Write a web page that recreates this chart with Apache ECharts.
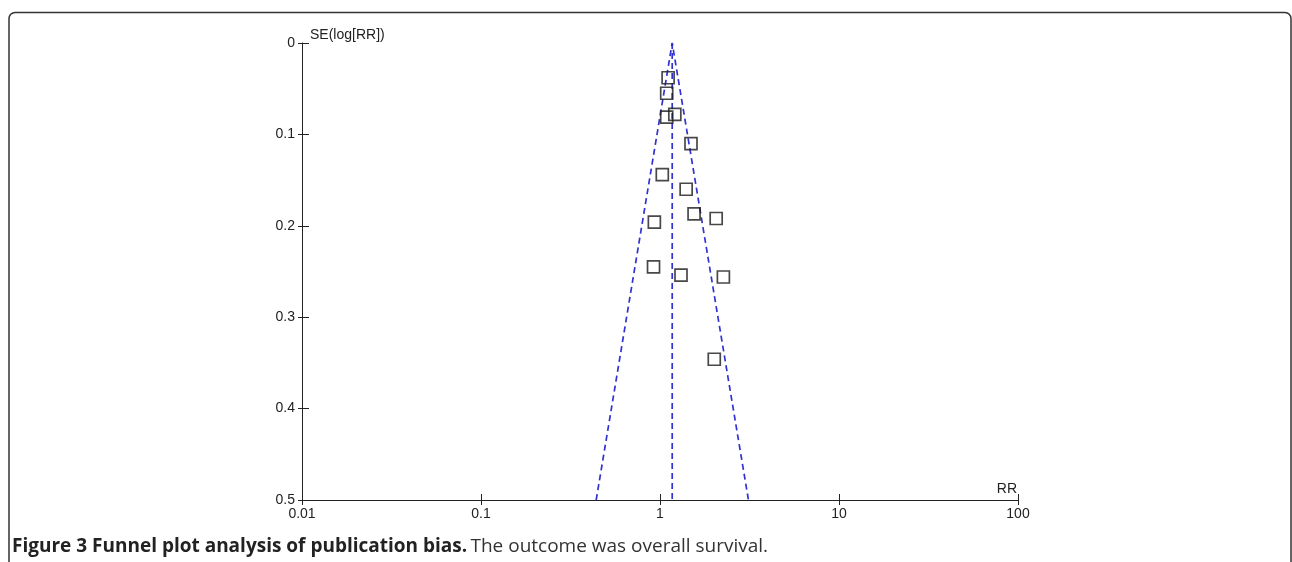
<!DOCTYPE html>
<html>
<head>
<meta charset="utf-8">
<script src="https://cdn.jsdelivr.net/npm/echarts@6/dist/echarts.min.js"></script>
<style>
  html, body { margin: 0; padding: 0; background: #fff; }
  #chart { width: 1292px; height: 562px; }
</style>
</head>
<body>
<div id="chart"></div>
<script>
// study points: RR and SE(log[RR])
var studyRR = [1.11, 1.09, 1.09, 1.21, 1.49, 1.03, 1.40, 1.55, 2.06, 0.93, 0.92, 1.31, 2.26, 2.01];
var studySE = [0.038, 0.055, 0.081, 0.078, 0.110, 0.144, 0.160, 0.187, 0.192, 0.196, 0.245, 0.254, 0.256, 0.346];

// pooled estimate and funnel limits at the bottom of the plot
var pooledRR = 1.17;
var funnelRR = [0.44, 1.17, 3.12];
var funnelSE = [0.5, 0, 0.5];
var centerSE = [0, 0.5];

var xTicks = [0.01, 0.1, 1, 10, 100];

var points = studyRR.map(function (rr, i) { return [rr, studySE[i]]; });
var funnel = funnelRR.map(function (rr, i) { return [rr, funnelSE[i]]; });
var center = centerSE.map(function (se) { return [pooledRR, se]; });

var axisFont = { fontFamily: 'Liberation Sans, Arial, sans-serif', fontSize: 14, color: '#222' };
var blue = '#3232d2';

var chart = echarts.init(document.getElementById('chart'));
var option = {
  animation: false,
  backgroundColor: '#fff',
  grid: { left: 302, right: 274, top: 43, bottom: 62 },
  xAxis: [{
    type: 'log', logBase: 10, min: 0.01, max: 100,
    position: 'bottom',
    name: 'RR', nameLocation: 'end', nameGap: 0,
    nameTextStyle: Object.assign({}, axisFont, { align: 'right', verticalAlign: 'bottom', padding: [0, 1, 4, 0] }),
    axisLine: { onZero: false, lineStyle: { color: '#222', width: 1 } },
    axisTick: { length: 5, lineStyle: { color: '#222' } },
    axisLabel: Object.assign({}, axisFont, {
      margin: 7,
      formatter: function (v) { return xTicks.indexOf(v) >= 0 ? String(v) : ''; }
    }),
    splitLine: { show: false },
    minorTick: { show: false }
  }, {
    type: 'log', logBase: 10, min: 0.01, max: 100,
    position: 'bottom', offset: 0,
    axisLine: { show: false, onZero: false },
    axisTick: { inside: true, length: 6, lineStyle: { color: '#222' } },
    axisLabel: { show: false },
    splitLine: { show: false }
  }],
  yAxis: [{
    type: 'value', inverse: true, min: 0, max: 0.5, interval: 0.1,
    position: 'left',
    name: 'SE(log[RR])', nameLocation: 'start', nameGap: 1,
    nameTextStyle: Object.assign({}, axisFont, { align: 'left', verticalAlign: 'bottom', padding: [0, 0, 0, 8] }),
    axisLine: { show: true, onZero: false, lineStyle: { color: '#222', width: 1 } },
    axisTick: { show: true, length: 4, lineStyle: { color: '#222' } },
    axisLabel: Object.assign({}, axisFont, { margin: 7, verticalAlign: 'middle', padding: [5, 0, 0, 0] }),
    splitLine: { show: false }
  }, {
    type: 'value', inverse: true, min: 0, max: 0.5, interval: 0.1,
    position: 'left', offset: 0,
    axisLine: { show: false, onZero: false },
    axisTick: { show: true, inside: true, length: 7, lineStyle: { color: '#222' } },
    axisLabel: { show: false },
    splitLine: { show: false }
  }],
  series: [{
    type: 'line', data: funnel, symbol: 'none', silent: true,
    lineStyle: { color: blue, width: 1.7, type: [6, 4] }
  }, {
    type: 'line', data: center, symbol: 'none', silent: true,
    lineStyle: { color: blue, width: 1.7, type: [6, 4] }
  }, {
    type: 'scatter', data: points, symbol: 'rect', symbolSize: 12,
    itemStyle: { color: 'rgba(0,0,0,0)', borderColor: '#1a1a1a', borderWidth: 1.7 },
    z: 5
  }],
  graphic: [{
    type: 'rect', silent: true,
    shape: { x: 9, y: 12.5, width: 1282, height: 600, r: 6 },
    style: { fill: null, stroke: '#333', lineWidth: 1.5 }
  }, {
    type: 'text', left: 12, top: 537,
    style: {
      text: '{b|Figure 3 Funnel plot analysis of publication bias.} {r|The outcome was overall survival.}',
      rich: {
        b: { fontFamily: 'Open Sans', fontWeight: 'bold', fontSize: 19, fill: '#222' },
        r: { fontFamily: 'Open Sans', fontSize: 19, fill: '#333' }
      }
    }
  }]
};
chart.setOption(option);
</script>
</body>
</html>
